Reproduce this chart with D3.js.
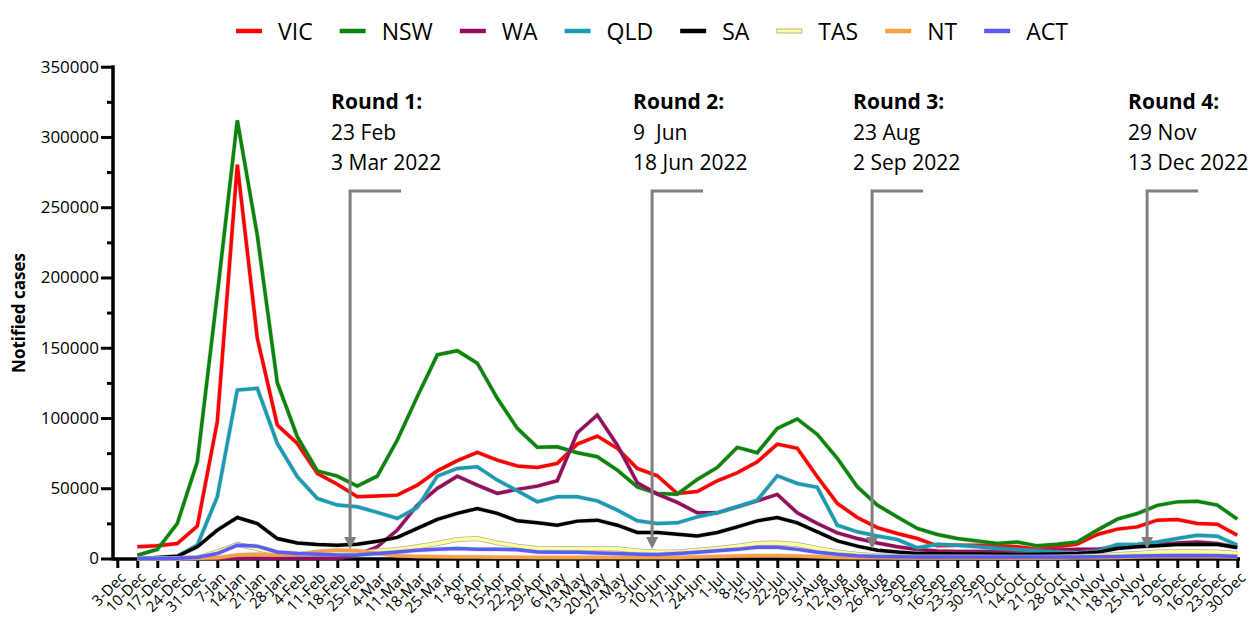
<!DOCTYPE html>
<html>
<head>
<meta charset="utf-8">
<script src="https://cdn.jsdelivr.net/npm/d3@7/dist/d3.min.js"></script>
<style>
  body { margin: 0; background: #fff; }
  svg text { font-family: "Open Sans", sans-serif; fill: #000; }
</style>
</head>
<body>
<svg id="chart" width="1250" height="619"></svg>
<script>
// weekly notification dates, 3-Dec-2021 .. 30-Dec-2022
const weeks = ["3-Dec","10-Dec","17-Dec","24-Dec","31-Dec","7-Jan","14-Jan","21-Jan","28-Jan",
  "4-Feb","11-Feb","18-Feb","25-Feb","4-Mar","11-Mar","18-Mar","25-Mar","1-Apr","8-Apr","15-Apr",
  "22-Apr","29-Apr","6-May","13-May","20-May","27-May","3-Jun","10-Jun","17-Jun","24-Jun","1-Jul",
  "8-Jul","15-Jul","22-Jul","29-Jul","5-Aug","12-Aug","19-Aug","26-Aug","2-Sep","9-Sep","16-Sep",
  "23-Sep","30-Sep","7-Oct","14-Oct","21-Oct","28-Oct","4-Nov","11-Nov","18-Nov","25-Nov","2-Dec",
  "9-Dec","16-Dec","23-Dec","30-Dec"];

const VIC = [null, 8300, 9000, 10700, 23000, 97400, 280300, 156800, 95000, 81900, 60600, 52900,
  43900, 44400, 45100, 52200, 62400, 69600, 75500, 70000, 65800, 64800, 67700, 81400, 87100, 78400,
  64100, 58900, 46300, 47700, 55300, 61000, 68800, 81400, 78400, 58200, 39200, 29200, 22000, 17800,
  14200, 9000, 9500, 9500, 9000, 8300, 6600, 8300, 10200, 17100, 20900, 22500, 27300, 27800, 24900,
  24400, 16600];
const NSW = [null, 2350, 6400, 24900, 68800, 188000, 311800, 230000, 125100, 86700, 62400, 58600,
  51500, 58600, 84300, 115200, 144900, 147900, 139000, 114000, 92600, 79100, 79500, 75300, 72400,
  62900, 51000, 46300, 45800, 56300, 64800, 79100, 75300, 92600, 99300, 88300, 71300, 51000, 38000,
  29600, 21400, 17100, 14200, 12500, 10700, 11800, 9000, 10200, 11800, 20200, 28000, 32000, 37800,
  40300, 40800, 38000, 28000];
const WA = [null, 50, 50, 50, 50, 50, 100, 100, 100, 100, 100, 150, 2500, 8300, 20200, 38000,
  49900, 58600, 52200, 46300, 49200, 51500, 55300, 89500, 102100, 80700, 53900, 45800, 39900, 32500,
  32500, 36800, 41000, 45600, 32500, 24900, 18200, 14200, 11000, 8300, 6400, 5400, 5000, 5000, 5000,
  5500, 5500, 6000, 6500, 6600, 8300, 9500, 10200, 11100, 11800, 10700, 7800];
const QLD = [null, 0, 0, 1600, 9500, 43900, 119900, 121100, 81900, 58200, 42700, 38000, 36800,
  32800, 28500, 36300, 58600, 64100, 65300, 55800, 48200, 40300, 43900, 43900, 41000, 34400, 26800,
  24900, 25400, 29600, 32500, 36800, 41500, 58900, 53400, 50600, 23700, 19000, 16000, 13500, 7600,
  10200, 9500, 8300, 7100, 6400, 5400, 4700, 4000, 5400, 10000, 10200, 11800, 14200, 16600, 15900,
  9500];
const SA = [null, 0, 700, 1600, 8300, 20200, 29200, 24900, 14200, 11100, 10000, 9500, 10200, 12300,
  15000, 21400, 27800, 32100, 35600, 32100, 26800, 25400, 23700, 26600, 27300, 23700, 18500, 18500,
  17300, 16100, 18500, 22500, 26800, 29200, 25400, 19000, 12500, 8800, 5900, 4700, 3500, 3500, 3200,
  3200, 3000, 3000, 3000, 3200, 3500, 4500, 7100, 8300, 9000, 10000, 10200, 10000, 7800];
const TAS = [null, 0, 0, 0, 500, 4700, 10000, 7100, 3500, 3000, 3000, 3500, 4000, 5400, 6400, 8300,
  10700, 13500, 14200, 11100, 8800, 7100, 6900, 6900, 6900, 6900, 5400, 4700, 4700, 5900, 7100, 8800,
  10700, 11100, 10000, 7100, 4700, 3000, 1900, 1500, 1300, 1200, 1200, 1200, 1100, 1100, 1100, 1200,
  1500, 2000, 2800, 3500, 4700, 4800, 4800, 4700, 3500];
const NT = [null, 0, 0, 0, 100, 500, 2500, 3000, 2500, 3000, 5000, 6000, 5500, 3500, 2000, 1500,
  1200, 1000, 1000, 900, 900, 800, 800, 800, 800, 700, 700, 700, 800, 1000, 1500, 1800, 2000, 2000,
  1800, 1200, 800, 600, 500, 400, 400, 400, 400, 400, 400, 400, 400, 400, 500, 600, 800, 1000, 1200,
  1300, 1300, 1200, 1000];
const ACT = [null, 0, 0, 100, 800, 3500, 9500, 8800, 4700, 3500, 3000, 2500, 2500, 3500, 4700, 5900,
  6600, 7100, 6500, 6500, 6300, 4700, 4500, 4500, 4000, 3500, 3000, 2800, 3500, 4500, 5500, 6500,
  8000, 8000, 6500, 4500, 3000, 2000, 1500, 1200, 1000, 1000, 1000, 1000, 1000, 1000, 1000, 1000,
  1000, 1200, 1500, 1800, 2000, 2000, 2000, 2000, 1500];

const stateNames = ["VIC", "NSW", "WA", "QLD", "SA", "TAS", "NT", "ACT"];
const stateValues = [VIC, NSW, WA, QLD, SA, TAS, NT, ACT];
const stateColours = ["#ff0000", "#0b840b", "#930f5c", "#1b9bb3", "#000000", "#ffff99", "#f7a047", "#5b5bf5"];

const yTicks = [0, 50000, 100000, 150000, 200000, 250000, 300000, 350000];

// survey rounds: position along the week axis (fractional week index) + labels
const roundTitles = ["Round 1:", "Round 2:", "Round 3:", "Round 4:"];
const roundStarts = ["23 Feb", "9  Jun", "23 Aug", "29 Nov"];
const roundEnds = ["3 Mar 2022", "18 Jun 2022", "2 Sep 2022", "13 Dec 2022"];
const roundWeekPos = [11.64, 26.74, 37.74, 51.49];

const svg = d3.select("#chart");
const margin = { left: 113, top: 67, bottom: 559 };

const x = d3.scalePoint().domain(weeks).range([117.3, 1237.3]);
const xIdx = d3.scaleLinear().domain([0, weeks.length - 1]).range([117.3, 1237.3]);
const y = d3.scaleLinear().domain([0, 350000]).range([558.5, 66.7]);

// x axis
const gx = svg.append("g")
  .attr("transform", "translate(0," + margin.bottom + ")")
  .call(d3.axisBottom(x).tickSize(9).tickSizeOuter(0));
gx.select(".domain").remove();
gx.selectAll(".tick line").attr("stroke", "#000").attr("stroke-width", 3);
gx.selectAll(".tick text")
  .attr("font-size", 15)
  .attr("fill", "#222")
  .attr("text-anchor", "end")
  .attr("y", 0).attr("dy", "0.35em")
  .attr("transform", "translate(5,16) rotate(-45)");

// y axis
const gy = svg.append("g")
  .attr("transform", "translate(" + margin.left + ",0)")
  .call(d3.axisLeft(y).tickValues(yTicks).tickSize(12).tickPadding(2)
    .tickSizeOuter(0).tickFormat(d3.format("d")));
gy.select(".domain").remove();
gy.selectAll(".tick line").attr("stroke", "#000").attr("stroke-width", 3);
gy.selectAll(".tick text").attr("font-size", 17).attr("fill", "#222");

const gyMinor = svg.append("g")
  .attr("transform", "translate(" + margin.left + ",0)")
  .call(d3.axisLeft(y).tickValues(yTicks.slice(0, -1).map(d => d + 25000)).tickSize(6).tickFormat(""));
gyMinor.select(".domain").remove();
gyMinor.selectAll(".tick line").attr("stroke", "#000").attr("stroke-width", 3);

svg.append("line")
  .attr("x1", margin.left).attr("x2", margin.left)
  .attr("y1", y(350000) - 1.5).attr("y2", margin.bottom + 1.5)
  .attr("stroke", "#000").attr("stroke-width", 3.5);
svg.append("line")
  .attr("x1", margin.left).attr("x2", 1240)
  .attr("y1", margin.bottom).attr("y2", margin.bottom)
  .attr("stroke", "#000").attr("stroke-width", 3.5);

svg.append("text")
  .attr("transform", "translate(25," + ((margin.top + margin.bottom) / 2) + ") rotate(-90)")
  .attr("text-anchor", "middle")
  .attr("font-size", 17)
  .attr("font-weight", "bold")
  .text("Notified cases");

// lines
const line = d3.line()
  .defined(d => d != null)
  .x((d, i) => x(weeks[i]))
  .y(d => y(d));

stateValues.forEach((vals, k) => {
  svg.append("path")
    .attr("d", line(vals))
    .attr("fill", "none")
    .attr("stroke", "#9a9a9a")
    .attr("stroke-opacity", k === 5 ? 0.8 : 0.25)
    .attr("stroke-width", 5)
    .attr("stroke-linejoin", "miter");
  svg.append("path")
    .attr("d", line(vals))
    .attr("fill", "none")
    .attr("stroke", stateColours[k])
    .attr("stroke-width", 3.5)
    .attr("stroke-linejoin", "miter");
});

// round annotations
const grey = "#7f7f7f";
roundWeekPos.forEach((p, k) => {
  const ax = xIdx(p);
  svg.append("path")
    .attr("d", "M" + (ax + 51) + ",191H" + ax + "V540")
    .attr("fill", "none")
    .attr("stroke", grey)
    .attr("stroke-width", 3);
  svg.append("path")
    .attr("d", "M" + (ax - 6) + ",537L" + (ax + 6) + ",537L" + ax + ",549Z")
    .attr("fill", grey);
  const t = svg.append("text")
    .attr("x", ax - 19)
    .attr("font-size", 21)
    .style("white-space", "pre");
  t.append("tspan").attr("x", ax - 19).attr("y", 109).attr("font-weight", "bold").text(roundTitles[k]);
  t.append("tspan").attr("x", ax - 19).attr("y", 140).text(roundStarts[k]);
  t.append("tspan").attr("x", ax - 19).attr("y", 170).text(roundEnds[k]);
});

// legend
let lx = 236;
stateNames.forEach((name, k) => {
  svg.append("line")
    .attr("x1", lx).attr("x2", lx + 26)
    .attr("y1", 31).attr("y2", 31)
    .attr("stroke", k === 5 ? "#b5b58a" : stateColours[k])
    .attr("stroke-width", k === 5 ? 5 : 4.5);
  if (k === 5) {
    svg.append("line")
      .attr("x1", lx + 1).attr("x2", lx + 25)
      .attr("y1", 31).attr("y2", 31)
      .attr("stroke", stateColours[k]).attr("stroke-width", 3);
  }
  const t = svg.append("text")
    .attr("x", lx + 42).attr("y", 40)
    .attr("font-size", 23)
    .text(name);
  lx += 42 + t.node().getComputedTextLength() + 27;
});
</script>
</body>
</html>
